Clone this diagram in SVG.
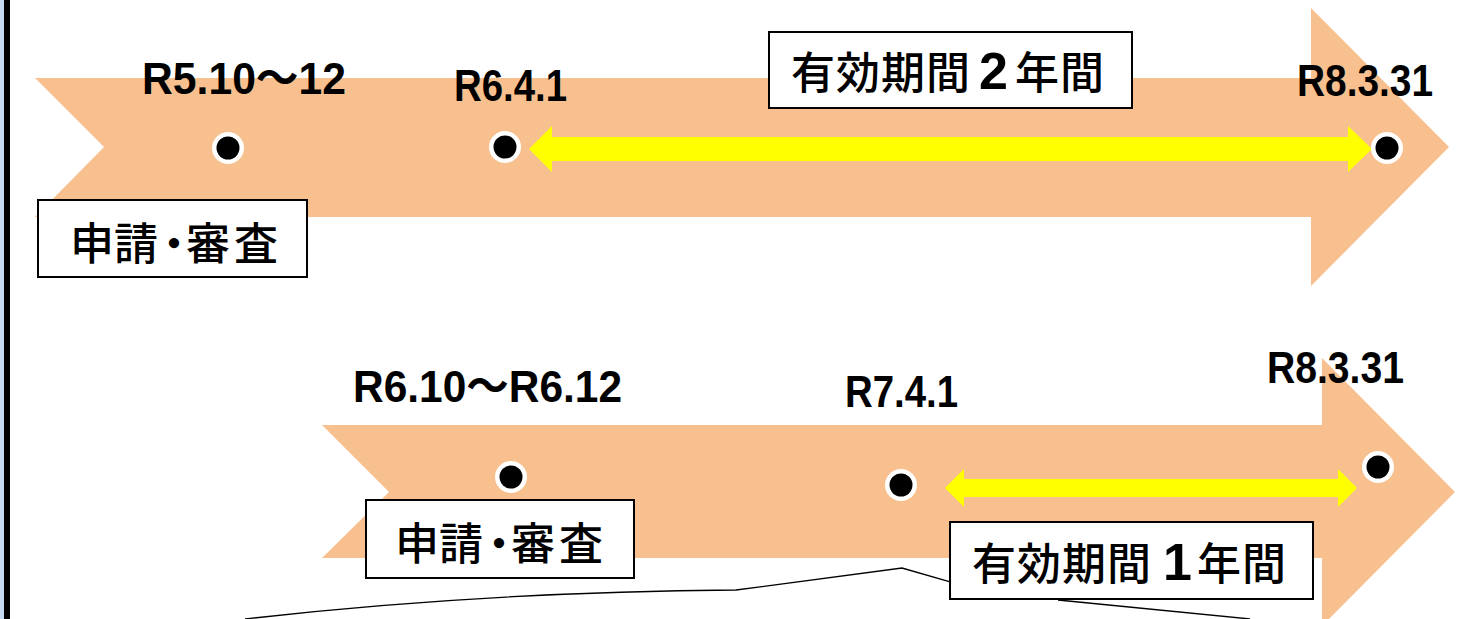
<svg xmlns="http://www.w3.org/2000/svg" width="1475" height="619" viewBox="0 0 1475 619">
<style>
.band{fill:#F9C08F}
.yel{fill:#FFFF00}
.lbl{font-family:"Liberation Sans","Noto Sans CJK JP",sans-serif;font-size:44px;font-weight:bold;fill:#000}
.cjk{font-family:"Noto Sans CJK JP","Liberation Sans",sans-serif;font-size:44px;font-weight:500;fill:#000}
.num{font-family:"Liberation Sans",sans-serif;font-size:52px;font-weight:bold;fill:#000}
.box{fill:#fff;stroke:#000;stroke-width:2}
.ring{fill:#fff}
.dot{fill:#000}
.call{fill:none;stroke:#000;stroke-width:1.3}
</style>
<defs>
<g id="pt"><circle class="ring" r="16"/><circle class="dot" r="11.5"/></g>
</defs>
<rect x="0" y="0" width="1475" height="619" fill="#fff"/>
<rect x="0" y="0" width="4" height="619" fill="#C6D9F1"/>
<rect x="4" y="0" width="6" height="619" fill="#000"/>

<g id="timeline-top">
<path class="band" d="M35,78 L1311,78 L1311,8 L1449,147 L1311,286 L1311,217 L35,217 L104,147 Z"/>
</g>
<g id="timeline-bottom">
<path class="band" d="M322,425 L1322,425 L1322,358 L1455,492 L1322,626 L1322,558 L322,558 L389,492 Z"/>
</g>

<g id="connectors">
<path class="yel" d="M529,149 L552,126 L552,137 L1348,137 L1348,126 L1372,149 L1348,172 L1348,161 L552,161 L552,172 Z"/>
<path class="yel" d="M945,488 L964,469 L964,479 L1338,479 L1338,469 L1357,488 L1338,507 L1338,497 L964,497 L964,507 Z"/>
<path class="call" d="M245,619 Q480,592 736,590 L902,568 L951,582"/>
<path class="call" d="M1058,600 L1250,619"/>
</g>

<g id="pt-r5"><use href="#pt" x="228" y="148"/></g>
<g id="pt-r6"><use href="#pt" x="505" y="147"/></g>
<g id="pt-r8a"><use href="#pt" x="1387" y="148"/></g>
<g id="pt-r6b"><use href="#pt" x="511" y="477"/></g>
<g id="pt-r7"><use href="#pt" x="901" y="485"/></g>
<g id="pt-r8b"><use href="#pt" x="1378" y="467"/></g>

<g id="label-r5"><text class="lbl" x="142" y="94" textLength="204" lengthAdjust="spacingAndGlyphs">R5.10～12</text></g>
<g id="label-r6"><text class="lbl" x="454" y="101" textLength="113" lengthAdjust="spacingAndGlyphs">R6.4.1</text></g>
<g id="label-r8a"><text class="lbl" x="1297" y="96" textLength="136" lengthAdjust="spacingAndGlyphs">R8.3.31</text></g>
<g id="label-r6b"><text class="lbl" x="353" y="402" textLength="269" lengthAdjust="spacingAndGlyphs">R6.10～R6.12</text></g>
<g id="label-r7"><text class="lbl" x="845" y="407" textLength="113" lengthAdjust="spacingAndGlyphs">R7.4.1</text></g>
<g id="label-r8b"><text class="lbl" x="1267" y="383" textLength="137" lengthAdjust="spacingAndGlyphs">R8.3.31</text></g>

<g id="box-apply-top">
<rect class="box" x="38" y="200" width="269" height="77"/>
<text class="cjk" x="70 114 152 186 234" y="260">申請・審査</text>
</g>
<g id="box-valid2">
<rect class="box" x="769" y="32" width="363" height="76"/>
<text class="cjk" y="89"><tspan x="791 836 881 926">有効期間</tspan><tspan class="num" x="979">2</tspan><tspan x="1015 1060">年間</tspan></text>
</g>
<g id="box-apply-bottom">
<rect class="box" x="366" y="500" width="268" height="78"/>
<text class="cjk" x="395 439 477 511 559" y="560">申請・審査</text>
</g>
<g id="box-valid1">
<rect class="box" x="950" y="522" width="363" height="77"/>
<text class="cjk" y="580"><tspan x="972 1017 1062 1107">有効期間</tspan><tspan class="num" x="1163">1</tspan><tspan x="1197 1242">年間</tspan></text>
</g>
</svg>
